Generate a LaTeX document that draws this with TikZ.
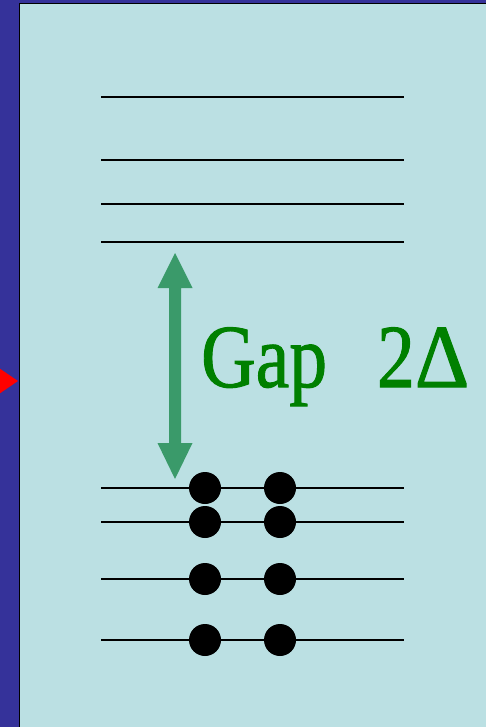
\documentclass[tikz,border=0pt]{standalone}
\usepackage{fontspec}
\setmainfont{Liberation Serif}
\newfontfamily\gapfont[FakeBold=1.2]{Liberation Serif}
\definecolor{bgdark}{RGB}{53,50,154}
\definecolor{panel}{RGB}{187,224,227}
\definecolor{arrowgreen}{RGB}{58,154,106}
\definecolor{textgreen}{RGB}{0,128,0}
\tikzset{
  level/.style={line width=1.8pt, black},
  electron/.style={circle, fill=black, inner sep=0pt, minimum size=32pt},
}
\begin{document}
\begin{tikzpicture}[x=1pt,y=-1pt]
\useasboundingbox (0,0) rectangle (486,727);
\clip (0,0) rectangle (486,727);
\fill[bgdark] (0,0) rectangle (486,727);
\fill[panel] (19.5,3.5) rectangle (490,730);
\draw[line width=1.6pt,black] (19.5,730) -- (19.5,3.5) -- (490,3.5);
% red pointer
\fill[red] (-4,366) -- (18,381) -- (-4,396) -- cycle;
% upper levels
\foreach \y in {97,160,204,242} \draw[level] (101,\y) -- (404,\y);
% lower levels with electrons
\foreach \y [count=\i] in {488,522,579,640} {
  \draw[level] (101,\y) -- (404,\y);
  \node[electron] (l\i) at (205,\y) {};
  \node[electron] (r\i) at (280,\y) {};
}
% gap arrow
\fill[arrowgreen] (175,253) -- (192.5,288) -- (181,288) -- (181,443) -- (192.5,443)
  -- (175,479) -- (157.5,443) -- (169,443) -- (169,288) -- (157.5,288) -- cycle;
\node[anchor=base west, inner sep=0pt, xscale=0.84, text=textgreen, font=\gapfont\fontsize{90}{90}\selectfont] (gap) at (201,387) {Gap\hspace{0.66em}2\scalebox{1.12}[1]{Δ}};
\end{tikzpicture}
\end{document}
